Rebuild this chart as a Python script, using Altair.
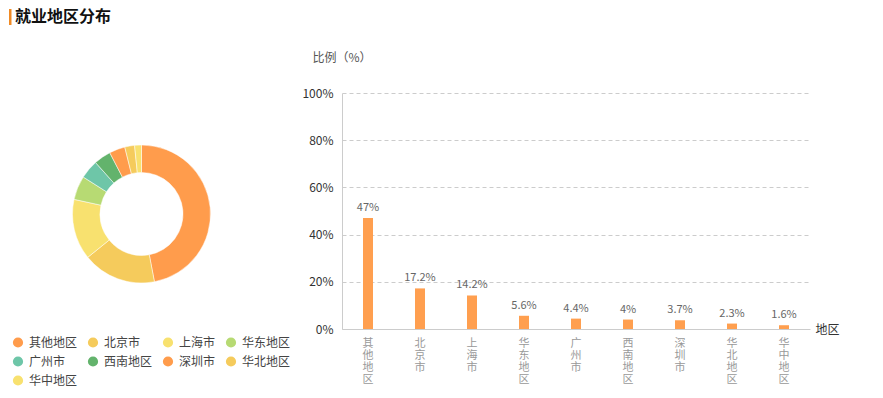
import altair as alt
import pandas as pd

TITLE = "就业地区分布"
regions = ["其他地区", "北京市", "上海市", "华东地区", "广州市", "西南地区", "深圳市", "华北地区", "华中地区"]
values = [47, 17.2, 14.2, 5.6, 4.4, 4, 3.7, 2.3, 1.6]
slice_colors = ["#FF9C4C", "#F5CB5C", "#F8E16F", "#B7DA73", "#6EC6A8", "#63B36C", "#FF9C4C", "#F5CB5C", "#F8E16F"]
y_ticks = [0, 20, 40, 60, 80, 100]

df = pd.DataFrame({"region": regions, "value": values, "idx": list(range(len(regions)))})
tdf = pd.DataFrame({"t": [TITLE]})

base = alt.Chart(df)

x_enc = alt.X(
    "region:N", sort=regions,
    scale=alt.Scale(paddingInner=0, paddingOuter=0),
    axis=alt.Axis(
        title="地区", titleX=473, titleY=0, titleAngle=0, titleAlign="left",
        titleBaseline="middle", titleFontSize=12, titleFontWeight="normal", titleColor="#333",
        labelAngle=0, labelExpr="split(datum.label, '')", labelLineHeight=12,
        labelBaseline="top", labelPadding=8, labelFontSize=11, labelColor="#999",
        ticks=False, domainColor="#ccc", grid=False,
    ),
)
y_enc = alt.Y(
    "value:Q",
    scale=alt.Scale(domain=[0, 100], nice=False),
    axis=alt.Axis(
        values=y_ticks, labelExpr="datum.value + '%'",
        title="比例（%）", titleAngle=0, titleX=-30, titleY=-36, titleAlign="left",
        titleBaseline="middle", titleFontSize=12, titleFontWeight="normal", titleColor="#555",
        ticks=False, labelPadding=9, labelFontSize=12, labelColor="#333",
        domainColor="#ccc", gridColor="#ccc", gridDash=[4, 3],
    ),
)

bars = base.mark_bar(size=10, color="#FF9F4F").encode(x=x_enc, y=y_enc)

labels = base.transform_calculate(lab="datum.value + '%'").mark_text(
    baseline="bottom", dy=-5, fontSize=11, color="#666"
).encode(
    x=alt.X("region:N", sort=regions),
    y=alt.Y("value:Q"),
    text="lab:N",
)

arc = base.mark_arc(radius=69, innerRadius=41.5, stroke="#fff", strokeWidth=0.5).encode(
    theta=alt.Theta("value:Q", stack=True),
    color=alt.Color(
        "region:N",
        scale=alt.Scale(domain=regions, range=slice_colors),
        legend=alt.Legend(
            title=None, orient="none", legendX=-330, legendY=243.5, columns=4,
            direction="horizontal",
            gridAlign="none", columnPadding=9, rowPadding=7, symbolType="circle",
            symbolSize=104, symbolStrokeWidth=0, labelOffset=5, labelFontSize=12,
            labelColor="#444", padding=0, offset=0,
        ),
    ),
    order=alt.Order("idx:Q"),
    x=alt.value(-200.5),
    y=alt.value(121),
)

title = alt.Chart(tdf).mark_text(
    align="left", baseline="middle", fontSize=16, fontWeight="bold", color="#111"
).encode(text="t:N", x=alt.value(-327), y=alt.value(-76))

accent = alt.Chart(tdf).mark_rect(color="#F08A24").encode(
    x=alt.value(-333), x2=alt.value(-330.5), y=alt.value(-84), y2=alt.value(-68)
)

chart = alt.layer(bars, labels, arc, title, accent).properties(
    width=468, height=236,
    autosize=alt.AutoSizeParams(type="none"),
    padding={"left": 334, "top": 85, "right": 50, "bottom": 65},
).configure(font="Noto Sans CJK SC").configure_view(stroke=None)

chart.save("out.html", embed_options={"renderer": "svg", "actions": False})
